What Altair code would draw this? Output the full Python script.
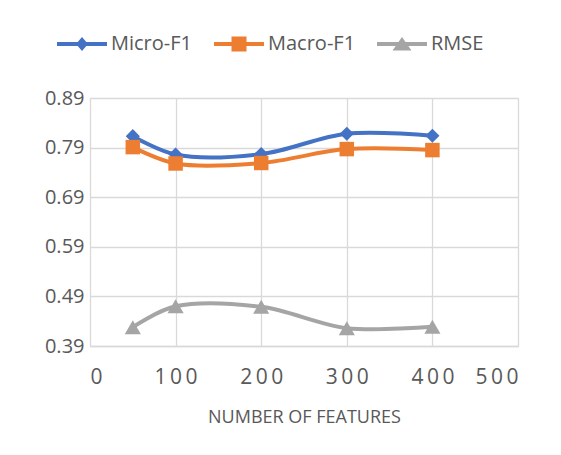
import altair as alt
import pandas as pd

features = [50, 100, 200, 300, 400]
micro_f1 = [0.813, 0.776, 0.777, 0.818, 0.814]
macro_f1 = [0.791, 0.758, 0.759, 0.787, 0.785]
rmse = [0.428, 0.470, 0.469, 0.426, 0.429]

series = ["Micro-F1", "Macro-F1", "RMSE"]
colors = ["#4472C4", "#ED7D31", "#A5A5A5"]
marker_shapes = ["diamond", "square", "triangle-up"]
marker_sizes = [200, 210, 260]
y_ticks = [0.39, 0.49, 0.59, 0.69, 0.79, 0.89]
x_ticks = [0, 100, 200, 300, 400, 500]

rows = []
for name, vals in zip(series, [micro_f1, macro_f1, rmse]):
    for f, v in zip(features, vals):
        rows.append({"features": f, "value": v, "series": name})
df = pd.DataFrame(rows)

bar = "M-1,-0.08L1,-0.08L1,0.08L-1,0.08Z"
legend_paths = [
    bar + "M-0.24,0L0,-0.28L0.24,0L0,0.28Z",
    bar + "M-0.3,-0.3L0.3,-0.3L0.3,0.3L-0.3,0.3Z",
    bar + "M0,-0.28L0.38,0.26L-0.38,0.26Z",
]

font = "Open Sans"
txt = "#595959"
grid = "#D9D9D9"

x = alt.X("features:Q", scale=alt.Scale(domain=[0, 500], nice=False),
          axis=alt.Axis(values=x_ticks, title="NUMBER OF FEATURES", grid=True,
                        labelExpr="join(split(datum.label, ''), '\u2009')",
                        gridColor=grid, gridWidth=1.3, domainColor=grid, domainWidth=1.3,
                        ticks=False, labelFontSize=21, labelColor=txt, labelFont=font,
                        labelPadding=20, titleFont=font, titleFontSize=18,
                        titleFontWeight="normal", titleColor=txt, titlePadding=21))
y = alt.Y("value:Q", scale=alt.Scale(domain=[0.39, 0.89], nice=False, zero=False),
          axis=alt.Axis(values=y_ticks, format=".2f", title=None, grid=True,
                        gridColor=grid, gridWidth=1.3, domain=False, ticks=False,
                        labelFontSize=20, labelColor=txt, labelFont=font, labelPadding=6))
color_scale = alt.Scale(domain=series, range=colors)

base = alt.Chart(df)

legend_layer = base.transform_filter(alt.datum.value > 10).mark_point(filled=True, opacity=1).encode(
    x=x, y=y,
    color=alt.Color("series:N", scale=color_scale,
                    legend=alt.Legend(title=None, orient="none", direction="horizontal",
                                      legendX=-33, legendY=-79, padding=0,
                                      symbolSize=2500, symbolOpacity=1, symbolStrokeWidth=0,
                                      labelFontSize=20, labelFont=font, labelColor=txt,
                                      labelOffset=4, columnPadding=21)),
    shape=alt.Shape("series:N", scale=alt.Scale(domain=series, range=legend_paths)),
)
layers = [legend_layer]
for name, shp, sz in zip(series, marker_shapes, marker_sizes):
    sub = base.transform_filter(alt.datum.series == name)
    layers.append(sub.mark_line(interpolate="catmull-rom", strokeWidth=4).encode(
        x=x, y=y, color=alt.Color("series:N", scale=color_scale)))
    layers.append(sub.mark_point(filled=True, opacity=1, shape=shp, size=sz).encode(
        x=x, y=y, color=alt.Color("series:N", scale=color_scale)))

chart = alt.layer(*layers).properties(
    width=428, height=248,
    autosize=alt.AutoSizeParams(type="none"),
    padding={"left": 82, "top": 90, "right": 35, "bottom": 101},
).configure_view(stroke=None).configure(background="white")

chart.save("out.html", embed_options={"renderer": "svg", "actions": False})
